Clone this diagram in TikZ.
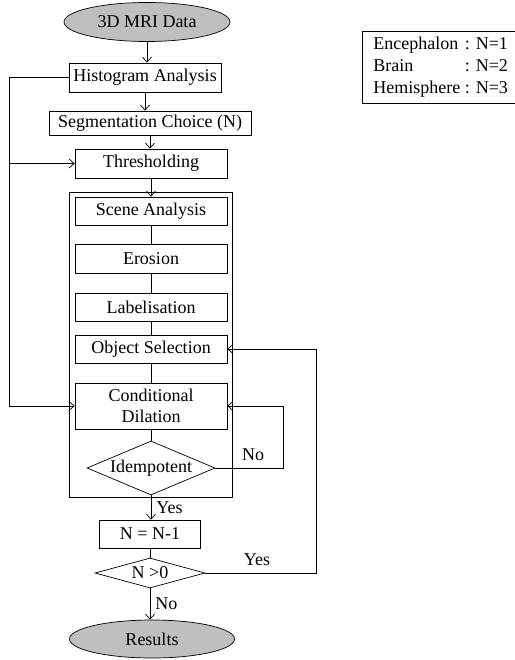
\documentclass[tikz,border=0pt]{standalone}
\usepackage{fontspec}
\setmainfont{Liberation Serif}
\usetikzlibrary{arrows.meta,shapes.geometric,positioning,calc}

\tikzset{
  stage/.style={draw, rectangle, inner sep=0pt, minimum height=28pt, minimum width=152pt},
  terminal/.style={draw, ellipse, fill=black!25, inner sep=0pt, minimum width=166pt, minimum height=39pt},
  test/.style={draw, diamond, inner sep=0pt},
  lbl/.style={inner sep=0pt}
}

\begin{document}
\begin{tikzpicture}[x=1pt, y=-1pt, line width=0.7pt,
    >={Straight Barb[length=5pt,width=9pt]},
    font=\fontsize{18}{21}\selectfont]
  \useasboundingbox (0,0) rectangle (514,660);

  % main column
  \node[terminal] (data) at (147,22) {3D MRI Data};
  \node[stage, minimum height=29pt] (hist) at (145,77.5) {Histogram Analysis};
  \node[stage, minimum width=202pt, minimum height=24pt] (seg) at (150,123) {Segmentation Choice (N)};
  \node[stage, minimum height=29pt] (thr) at (151,163.5) {Thresholding};

  % the iterated block
  \node[draw, inner sep=0pt, minimum width=163pt, minimum height=305pt] (loopbox) at (150.5,344.5) {};
  \node[stage] (scene) at (151,211) {Scene Analysis};
  \node[stage, minimum height=29pt] (ero) at (151,258.5) {Erosion};
  \node[stage] (lab) at (151,307) {Labelisation};
  \node[stage] (obj) at (151,349) {Object Selection};
  \node[stage, minimum height=46pt, align=center, font=\fontsize{18}{21}\selectfont] (dil) at (151,406) {Conditional\\Dilation};
  \node[test, aspect=2.4, minimum width=128pt, minimum height=54pt] (idem) at (151,468) {Idempotent};

  \node[stage, minimum width=101pt] (nmin) at (150,534) {N = N-1};
  \node[test, aspect=4, minimum width=110pt, minimum height=30pt] (dec) at (150,573) {N >0};
  \node[terminal, minimum width=165pt, minimum height=38pt] (res) at (152,639) {Results};

  % legend
  \node[draw, anchor=north west, inner xsep=11pt, inner ysep=3pt] (legend) at (362,31)
    {\fontsize{18}{22}\selectfont\begin{tabular}{@{}l@{ }l@{}}
      Encephalon & : N=1\\
      Brain & : N=2\\
      Hemisphere & : N=3
    \end{tabular}};

  % straight connectors
  \draw[->] (data.south) -- (data.south |- hist.north);
  \draw[->] (hist.south) -- (hist.south |- seg.north);
  \draw[->] (seg.south) -- (seg.south |- thr.north);
  \draw[->] (thr.south) -- (scene.north);
  \draw (scene) -- (ero);
  \draw (ero) -- (lab);
  \draw (lab) -- (obj);
  \draw (obj) -- (dil);
  \draw (dil) -- (idem);
  \draw[->] (idem.south) -- (idem.south |- nmin.north) node[lbl, midway, right=5pt] (yes1) {Yes};
  \draw (nmin) -- (dec);
  \draw[->] (dec.south) -- (dec.south |- res.north) node[lbl, midway, right=5pt] (no2) {No};

  % feedback lines
  \coordinate (rail) at (9,0);
  \coordinate (noloop) at (283,0);
  \coordinate (yesloop) at (316,0);
  \draw[->] (hist.west) -- (hist.west -| rail) |- (dil.west);
  \draw[->] (thr.west -| rail) -- (thr.west);
  \draw[->] (idem.east) -- (idem.east -| noloop) |- (dil.east);
  \draw[->] (dec.east) -- (dec.east -| yesloop) |- (obj.east);
  \node[lbl] (no1) at (253,455) {No};
  \node[lbl] (yes2) at (257,560) {Yes};
\end{tikzpicture}
\end{document}
